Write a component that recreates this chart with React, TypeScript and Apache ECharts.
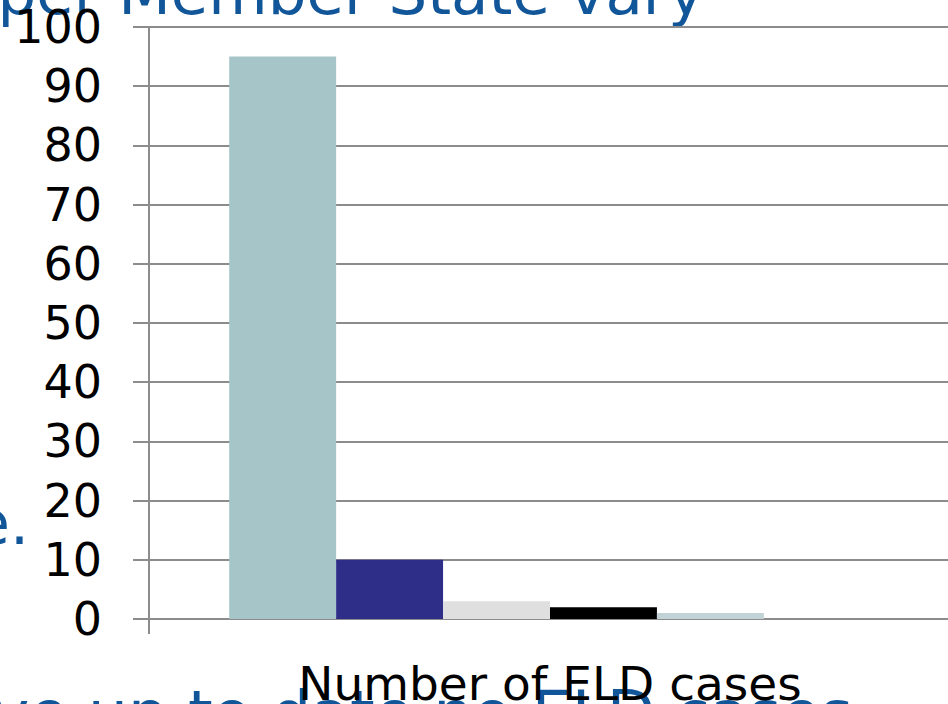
import React, { useEffect, useRef } from "react";
import * as echarts from "echarts";

// Category and per-series values
const categories = ["Number of ELD cases"];
const seriesNames = ["State A", "State B", "State C", "State D", "State E", "State F"];
const seriesValues = [95, 10, 3, 2, 1, 0];
const seriesColors = ["#A6C5C8", "#2E2D88", "#DFDFDF", "#000000", "#C1D3D6", "#8FA9AC"];
const yTicks = { min: 0, max: 100, interval: 10 };

// Slide text that sits behind the chart
const slideTop = "Number of cases per Member State vary";
const slideLeft = "e.";
const slideBottom = "ve up to date no ELD cases";

const FONT = "'DejaVu Sans', Verdana, sans-serif";
const GRID_COLOR = "#8C8C8C";
const SLIDE_BLUE = "#12569A";

export default function App() {
  const ref = useRef<HTMLDivElement>(null);

  useEffect(() => {
    if (!ref.current) return;
    const chart = echarts.init(ref.current, undefined, { renderer: "svg" });

    chart.setOption({
      animation: false,
      backgroundColor: "#FFFFFF",
      graphic: [
        {
          type: "text",
          z: -10,
          right: 244,
          top: -38,
          style: { text: slideTop, font: `61px ${FONT}`, fill: SLIDE_BLUE, textAlign: "right" },
        },
        {
          type: "text",
          z: -10,
          x: 29,
          y: 553,
          style: {
            text: slideLeft,
            font: `60px ${FONT}`,
            fill: SLIDE_BLUE,
            textAlign: "right",
            textVerticalAlign: "bottom",
          },
        },
        {
          type: "text",
          z: -10,
          x: -8,
          y: 745,
          style: {
            text: slideBottom,
            font: `63px ${FONT}`,
            fill: SLIDE_BLUE,
            textAlign: "left",
            textVerticalAlign: "bottom",
          },
        },
      ],
      // The plot runs off the right edge, so keep the grid exactly where it is placed
      grid: {
        left: 149,
        right: -3,
        top: 27,
        bottom: 85,
        containLabel: false,
        outerBoundsMode: "none",
      },
      xAxis: {
        type: "category",
        data: categories,
        boundaryGap: true,
        axisLine: { show: true, lineStyle: { color: GRID_COLOR, width: 2 } },
        axisTick: { show: true, length: 15, lineStyle: { color: GRID_COLOR, width: 2 } },
        axisLabel: { show: false },
        name: categories[0],
        nameLocation: "middle",
        nameGap: 41,
        nameTextStyle: { color: "#000000", fontSize: 47, fontFamily: FONT },
      },
      yAxis: {
        type: "value",
        min: yTicks.min,
        max: yTicks.max,
        interval: yTicks.interval,
        axisLine: { show: true, lineStyle: { color: GRID_COLOR, width: 2 } },
        axisTick: { show: true, length: 16, lineStyle: { color: GRID_COLOR, width: 2 } },
        splitLine: { show: true, lineStyle: { color: GRID_COLOR, width: 2 } },
        axisLabel: { color: "#000000", fontSize: 46, fontFamily: FONT, margin: 47 },
      },
      series: seriesNames.map((name, i) => ({
        name,
        type: "bar",
        data: [seriesValues[i]],
        barGap: "0%",
        barCategoryGap: "20%",
        itemStyle: { color: seriesColors[i] },
      })),
    });

    return () => chart.dispose();
  }, []);

  return (
    <div
      ref={ref}
      style={{ position: "fixed", left: 0, top: 0, width: 948, height: 704 }}
    />
  );
}
